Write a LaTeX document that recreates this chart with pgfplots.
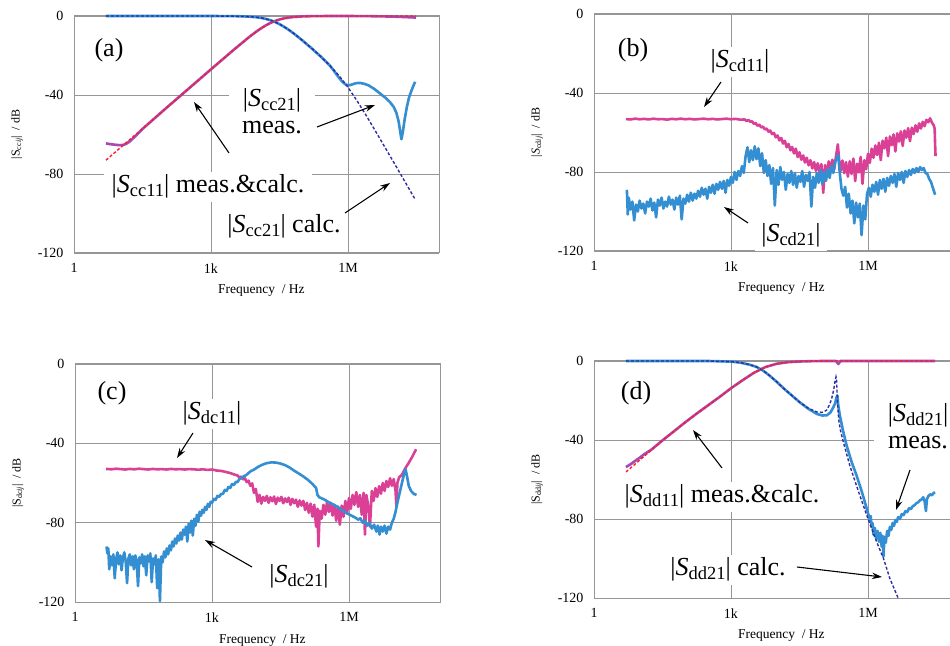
\documentclass[border=0pt]{standalone}
\usepackage{pgfplots}
\pgfplotsset{compat=1.18}
\usepackage{fontspec}
\setmainfont{Liberation Serif}
\usetikzlibrary{arrows.meta}
\definecolor{gridc}{RGB}{150,150,150}
\definecolor{pinkm}{RGB}{218,65,150}
\definecolor{purplem}{RGB}{168,72,178}
\definecolor{bluem}{RGB}{52,142,210}
\definecolor{navyc}{RGB}{45,45,165}
\definecolor{redc}{RGB}{250,30,40}
\newcommand{\A}{\fontsize{26}{27}\selectfont}
\newcommand{\Sb}[1]{\textit{S}\raisebox{-3.5pt}{\fontsize{18.5}{18.5}\selectfont #1}}
\newcommand{\Yl}[2]{|#1\raisebox{-1.5pt}{\fontsize{8}{8}\selectfont #2\textit{ij}}|\ \ / dB}
\tikzset{
meas/.style={line width=2.6pt, line join=round},
calc/.style={line width=1.4pt, dash pattern=on 3pt off 2pt},
lab/.style={font=\A, fill=white, inner ysep=3pt, inner xsep=6pt},
arr/.style={-{Stealth[length=10pt,width=6.5pt]}, line width=1.1pt}}
\pgfplotsset{panel/.style={
 scale only axis, width=365.3pt, height=237pt,
 xmin=0, xmax=8, ymin=-120, ymax=0,
 xtick={0,3,6}, xticklabels={1,1k,1M},
 ytick={-120,-80,-40,0}, yticklabels={-120,-80,-40,0},
 major tick length=0pt,
 grid=major, grid style={gridc, line width=0.9pt},
 axis line style={gridc, line width=1pt},
 tick label style={font=\fontsize{14}{14}\selectfont, text=black},
 xticklabel style={yshift=-7pt},
 yticklabel style={xshift=-7pt},
 clip=false,
 ylabel style={at={(axis description cs:-0.156,0.5)}, anchor=center, font=\fontsize{12}{12}\selectfont},
 xlabel style={at={(axis description cs:0.513,-0.16)}, anchor=center, font=\fontsize{13.5}{14}\selectfont},
 xlabel={Frequency\ \ / Hz},
}}
\begin{document}
\begin{tikzpicture}
\fill[white] (0pt,0pt) rectangle (950pt,645pt);
% ---------------- (a)
\begin{axis}[panel, at={(74pt,392pt)}, anchor=south west, ylabel={\Yl{S}{cc}}]
\addplot[meas, purplem] coordinates {(0.70,-64.5) (0.8,-64.9) (0.9,-65.2) (1.0,-65.4) (1.08,-65.3) (1.15,-64.6) (1.23,-63.4) (1.3,-61.8) (1.4,-59.6) (1.5,-57.2) (2.0,-47.0) (2.5,-37.0) (3.0,-27.0) (3.5,-17.08) (3.8,-11.33) (3.9,-9.51) (4.0,-7.79) (4.1,-6.19) (4.2,-4.76) (4.3,-3.54) (4.4,-2.54) (4.5,-1.76) (4.6,-1.19) (4.7,-0.79) (4.8,-0.51) (5.0,-0.21) (5.2,-0.09) (5.5,-0.02) (6.0,0) (6.5,-0.1) (7.0,-0.3) (7.3,-0.6) (7.49,-0.8)};
\addplot[meas, bluem] coordinates {(0.70,0) (3.0,-0.01) (3.5,-0.07) (3.8,-0.27) (4.0,-0.64) (4.1,-0.97) (4.2,-1.46) (4.3,-2.12) (4.4,-3.01) (4.5,-4.12) (4.6,-5.45) (4.7,-6.97) (4.8,-8.64) (4.9,-10.45) (5.0,-12.34) (5.2,-16.28) (5.4,-20.45) (5.6,-25.0) (5.7,-28.0) (5.8,-31.2) (5.88,-33.4) (5.95,-34.7) (6.02,-35.1) (6.1,-34.6) (6.18,-34.0) (6.26,-33.9) (6.35,-34.3) (6.45,-35.1) (6.58,-37.0) (6.70,-39.2) (6.82,-41.4) (6.92,-43.6) (7.0,-46.0) (7.06,-49.0) (7.11,-53.5) (7.14,-58.0) (7.17,-62.4) (7.20,-59.0) (7.24,-52.5) (7.29,-46.0) (7.34,-41.0) (7.40,-37.2) (7.47,-33.3)};
\addplot[calc, navyc] coordinates {(0.70,0) (2.0,0) (3.0,-0.01) (3.5,-0.07) (3.8,-0.27) (4.0,-0.64) (4.1,-0.97) (4.2,-1.46) (4.3,-2.12) (4.4,-3.01) (4.5,-4.12) (4.6,-5.45) (4.7,-6.97) (4.8,-8.64) (4.9,-10.45) (5.0,-12.34) (5.2,-16.28) (5.4,-20.45) (5.6,-24.99) (5.8,-30.12) (6.0,-36.1) (6.2,-43.0) (6.4,-50.4) (6.6,-58.2) (6.8,-66.1) (7.0,-74.0) (7.2,-82.0) (7.47,-92.8)};
\addplot[calc, redc] coordinates {(0.70,-73.0) (1.0,-67.0) (1.5,-57.0) (2.0,-47.0) (2.5,-37.0) (3.0,-27.0) (3.5,-17.08) (3.8,-11.33) (3.9,-9.51) (4.0,-7.79) (4.1,-6.19) (4.2,-4.76) (4.3,-3.54) (4.4,-2.54) (4.5,-1.76) (4.6,-1.19) (4.7,-0.79) (4.8,-0.51) (5.0,-0.21) (5.2,-0.09) (5.5,-0.02) (6.0,0) (7.49,0)};
\end{axis}
% ---------------- (b)
\begin{axis}[panel, at={(594pt,394pt)}, anchor=south west, ylabel={\Yl{\textit{S}}{cd}}]
\addplot[meas, pinkm] coordinates {(0.70,-53.2) (0.8,-53.4) (0.9,-53.0) (1.0,-53.3) (1.1,-53.1) (1.2,-53.4) (1.3,-53.0) (1.4,-53.3) (1.5,-53.2) (1.6,-53.5) (1.7,-53.1) (1.8,-53.3) (1.9,-53.0) (2.0,-53.3) (2.1,-53.1) (2.2,-53.4) (2.3,-53.2) (2.4,-53.0) (2.5,-53.3) (2.6,-53.1) (2.7,-53.4) (2.8,-53.2) (2.9,-53.0) (3.0,-53.3) (3.1,-53.1) (3.2,-53.5)
(3.30,-53.4) (3.34,-54.2) (3.38,-53.6) (3.42,-54.6) (3.46,-54.3) (3.50,-55.6) (3.54,-55.2) (3.58,-56.6) (3.62,-56.0) (3.66,-57.4) (3.70,-57.0) (3.74,-58.4) (3.78,-58.0) (3.82,-59.6) (3.86,-59.0) (3.90,-60.8) (3.94,-60.2) (3.98,-62.4) (4.02,-61.5) (4.06,-64.0) (4.10,-62.8) (4.14,-65.6) (4.18,-64.2) (4.22,-67.5) (4.26,-65.8) (4.30,-69.0) (4.34,-67.4) (4.38,-70.6) (4.42,-68.2) (4.46,-72.4) (4.50,-70.0) (4.54,-73.8) (4.58,-71.6) (4.62,-75.2) (4.66,-72.8) (4.70,-76.6) (4.74,-74.0) (4.78,-78.2) (4.82,-75.0) (4.86,-79.4) (4.90,-75.6) (4.94,-80.4) (4.98,-76.0) (5.02,-90.5) (5.06,-76.5) (5.10,-80.8) (5.14,-74.6) (5.18,-79.2) (5.22,-73.8) (5.26,-78.6) (5.30,-72.0) (5.34,-66.0) (5.37,-74.5) (5.40,-79.5) (5.44,-74.2) (5.48,-80.6) (5.52,-75.0) (5.56,-82.4) (5.60,-74.6) (5.64,-81.0) (5.68,-73.2) (5.72,-84.6) (5.76,-75.8) (5.80,-80.2) (5.84,-72.4) (5.88,-86.0) (5.92,-74.0) (5.96,-78.6) (6.00,-70.8) (6.04,-75.4) (6.08,-68.2) (6.12,-72.8) (6.16,-66.6) (6.20,-71.4) (6.24,-65.2) (6.28,-74.0) (6.32,-64.2) (6.36,-68.0) (6.40,-62.6) (6.44,-72.0) (6.48,-62.0) (6.52,-66.4) (6.56,-61.0) (6.60,-69.6) (6.64,-60.4) (6.68,-64.6) (6.72,-59.4) (6.76,-66.8) (6.80,-59.0) (6.84,-62.6) (6.88,-57.8) (6.92,-64.4) (6.96,-57.6) (7.00,-60.8) (7.04,-56.4) (7.08,-59.6) (7.12,-55.4) (7.16,-58.0) (7.20,-54.6) (7.24,-56.8) (7.28,-53.6) (7.32,-54.8) (7.36,-52.8) (7.40,-55.0) (7.44,-56.4) (7.46,-58.0) (7.47,-66.0) (7.48,-72.0)};
\addplot[meas, bluem] coordinates {(0.72,-89.0) (0.74,-101.5) (0.76,-93.0) (0.80,-99.0) (0.84,-95.0) (0.88,-104.5) (0.92,-96.5) (0.96,-100.0) (1.00,-94.5) (1.04,-98.5) (1.08,-96.0) (1.12,-101.0) (1.16,-95.0) (1.20,-97.5) (1.24,-93.5) (1.28,-99.5) (1.32,-95.5) (1.36,-103.0) (1.40,-94.0) (1.44,-97.0) (1.48,-93.0) (1.52,-98.5) (1.56,-95.0) (1.60,-97.5) (1.64,-92.5) (1.68,-96.5) (1.72,-94.0) (1.76,-99.0) (1.80,-93.0) (1.84,-96.5) (1.88,-92.0) (1.92,-104.0) (1.96,-93.5) (2.00,-96.0) (2.04,-91.5) (2.08,-95.0) (2.12,-90.5) (2.16,-94.5) (2.20,-91.0) (2.24,-93.5) (2.28,-89.5) (2.32,-92.5) (2.36,-88.0) (2.40,-91.5) (2.44,-88.5) (2.48,-93.5) (2.52,-87.5) (2.56,-90.5) (2.60,-86.5) (2.64,-91.0) (2.68,-86.0) (2.72,-89.0) (2.76,-85.0) (2.80,-88.5) (2.84,-84.5) (2.88,-90.5) (2.92,-84.0) (2.96,-87.0) (3.00,-82.5) (3.04,-85.5) (3.08,-80.0) (3.12,-84.0) (3.16,-79.5) (3.20,-82.0) (3.24,-77.0) (3.28,-80.5) (3.32,-72.0) (3.36,-67.5) (3.40,-75.0) (3.44,-69.0) (3.48,-74.0) (3.52,-67.0) (3.56,-73.5) (3.60,-68.0) (3.64,-77.0) (3.68,-70.5) (3.72,-80.5) (3.76,-74.0) (3.80,-82.0) (3.84,-76.5) (3.88,-86.0) (3.92,-78.0) (3.96,-97.0) (4.00,-79.0) (4.04,-86.5) (4.08,-77.5) (4.12,-84.0) (4.16,-80.0) (4.20,-89.0) (4.24,-81.0) (4.28,-85.5) (4.32,-79.5) (4.36,-86.5) (4.40,-80.5) (4.44,-88.0) (4.48,-82.0) (4.52,-85.0) (4.56,-79.5) (4.60,-87.5) (4.64,-81.5) (4.68,-84.5) (4.72,-80.0) (4.76,-97.5) (4.80,-82.5) (4.84,-88.0) (4.88,-80.5) (4.92,-85.5) (4.96,-79.0) (5.00,-86.0) (5.04,-80.0) (5.08,-84.5) (5.12,-78.5) (5.16,-83.0) (5.20,-77.0) (5.24,-80.5) (5.28,-75.0) (5.32,-72.5) (5.35,-71.5) (5.38,-80.0) (5.42,-88.5) (5.46,-92.0) (5.50,-87.5) (5.54,-98.0) (5.58,-91.0) (5.62,-101.0) (5.66,-94.5) (5.70,-106.0) (5.74,-95.5) (5.78,-103.0) (5.82,-96.0) (5.86,-112.0) (5.90,-97.0) (5.94,-104.0) (5.98,-91.0) (6.02,-88.0) (6.06,-92.5) (6.10,-86.5) (6.14,-90.0) (6.18,-85.0) (6.22,-91.5) (6.26,-84.0) (6.30,-88.5) (6.34,-83.5) (6.38,-90.0) (6.42,-83.0) (6.46,-87.0) (6.50,-82.0) (6.54,-85.5) (6.58,-81.0) (6.62,-87.5) (6.66,-80.5) (6.70,-84.0) (6.74,-80.0) (6.78,-85.5) (6.82,-79.5) (6.86,-82.5) (6.90,-79.0) (6.94,-81.5) (6.98,-78.5) (7.02,-80.5) (7.06,-78.0) (7.10,-80.0) (7.14,-77.5) (7.18,-79.0) (7.22,-78.0) (7.26,-80.5) (7.30,-81.0) (7.34,-83.5) (7.38,-85.0) (7.42,-88.0) (7.45,-90.0) (7.47,-91.5)};
\end{axis}
% ---------------- (c)
\begin{axis}[panel, at={(75pt,43pt)}, anchor=south west, height=238pt, ylabel={\Yl{S}{dc}}]
\addplot[meas, pinkm] coordinates {(0.68,-52.9) (0.8,-53.1) (0.9,-52.8) (1.0,-53.0) (1.1,-53.2) (1.2,-52.9) (1.3,-53.1) (1.4,-52.8) (1.5,-53.0) (1.6,-53.2) (1.7,-52.9) (1.8,-53.1) (1.9,-53.0) (2.0,-53.2) (2.1,-52.9) (2.2,-53.1) (2.3,-53.0) (2.4,-53.2) (2.5,-53.0) (2.6,-53.1) (2.7,-53.3) (2.8,-53.1) (2.9,-53.4) (3.0,-53.2) (3.1,-53.7) (3.2,-53.9) (3.3,-54.4) (3.4,-55.0) (3.5,-55.8)
(3.56,-56.2) (3.60,-57.2) (3.64,-56.8) (3.68,-58.2) (3.72,-57.6) (3.76,-59.6) (3.80,-58.8) (3.84,-61.4) (3.88,-60.2) (3.92,-65.0) (3.96,-63.0) (4.00,-69.5) (4.04,-66.0) (4.08,-70.4) (4.12,-67.0) (4.16,-69.0) (4.20,-66.5) (4.24,-70.0) (4.28,-67.2) (4.32,-69.2) (4.36,-66.8) (4.40,-70.6) (4.44,-67.4) (4.48,-69.0) (4.52,-67.0) (4.56,-70.2) (4.60,-67.8) (4.64,-69.6) (4.68,-67.4) (4.72,-71.0) (4.76,-68.0) (4.80,-70.2) (4.84,-68.4) (4.88,-72.0) (4.92,-68.8) (4.96,-71.4) (5.00,-69.0) (5.04,-73.6) (5.08,-70.0) (5.12,-75.0) (5.16,-70.4) (5.20,-77.0) (5.24,-71.0) (5.28,-82.0) (5.31,-73.0) (5.33,-92.0) (5.36,-74.0) (5.40,-78.0) (5.44,-71.0) (5.48,-76.0) (5.52,-69.6) (5.56,-74.6) (5.60,-70.0) (5.64,-76.4) (5.68,-71.0) (5.72,-79.0) (5.76,-72.0) (5.80,-81.0) (5.84,-71.4) (5.88,-77.0) (5.92,-69.0) (5.96,-75.0) (6.00,-67.6) (6.04,-73.0) (6.08,-66.0) (6.12,-71.0) (6.16,-64.6) (6.20,-72.0) (6.24,-66.0) (6.28,-76.0) (6.32,-65.0) (6.35,-86.0) (6.38,-66.0) (6.42,-71.0) (6.46,-82.0) (6.50,-64.0) (6.54,-69.0) (6.58,-62.6) (6.62,-67.0) (6.66,-61.6) (6.70,-65.4) (6.74,-60.0) (6.78,-64.0) (6.82,-59.0) (6.86,-62.0) (6.90,-57.6) (6.94,-61.4) (6.98,-58.0) (7.02,-64.0) (7.04,-72.0) (7.06,-60.0) (7.10,-57.0) (7.14,-56.4) (7.18,-55.0) (7.22,-53.2) (7.26,-51.6) (7.30,-50.2) (7.34,-48.6) (7.38,-47.0) (7.42,-45.2) (7.47,-43.0)};
\addplot[meas, bluem] coordinates {(0.69,-92.0) (0.71,-95.5) (0.73,-93.0) (0.75,-103.5) (0.78,-97.0) (0.81,-101.5) (0.84,-96.0) (0.87,-108.0) (0.90,-98.5) (0.93,-95.0) (0.96,-101.0) (0.99,-96.5) (1.02,-104.0) (1.05,-97.5) (1.08,-95.0) (1.11,-99.5) (1.14,-110.5) (1.17,-98.0) (1.20,-96.0) (1.23,-101.5) (1.26,-97.0) (1.29,-103.5) (1.32,-96.5) (1.35,-99.0) (1.38,-112.0) (1.41,-97.5) (1.44,-100.5) (1.47,-96.0) (1.50,-102.0) (1.53,-97.0) (1.56,-106.5) (1.59,-96.5) (1.62,-99.5) (1.65,-95.5) (1.68,-110.0) (1.71,-98.0) (1.74,-101.0) (1.77,-96.5) (1.80,-113.0) (1.83,-98.5) (1.86,-119.5) (1.89,-97.0) (1.92,-100.0) (1.95,-94.5) (1.98,-97.5) (2.01,-93.0) (2.04,-96.0) (2.07,-91.5) (2.10,-94.0) (2.13,-89.5) (2.16,-92.0) (2.19,-88.0) (2.22,-90.5) (2.25,-86.5) (2.28,-89.0) (2.31,-85.0) (2.34,-88.5) (2.37,-83.5) (2.40,-86.0) (2.43,-82.0) (2.46,-89.5) (2.49,-80.5) (2.52,-85.0) (2.55,-79.0) (2.58,-86.5) (2.61,-78.0) (2.64,-81.5) (2.67,-76.0) (2.70,-79.5) (2.73,-74.5) (2.76,-76.5) (2.79,-73.5) (2.82,-75.0) (2.85,-72.0) (2.88,-73.5) (2.91,-70.5) (2.94,-72.0) (2.97,-69.5) (3.00,-70.0) (3.04,-68.0) (3.08,-68.5) (3.12,-66.5) (3.16,-67.0) (3.20,-65.5) (3.24,-65.5) (3.28,-63.5) (3.32,-64.0) (3.36,-62.0) (3.40,-62.5) (3.44,-60.5) (3.48,-61.0) (3.52,-59.5) (3.56,-59.5) (3.60,-58.0) (3.65,-57.5) (3.70,-56.5) (3.75,-56.0) (3.80,-55.0) (3.85,-54.0) (3.90,-53.5) (3.95,-52.8) (4.00,-52.0) (4.10,-50.8) (4.20,-50.0) (4.30,-49.6) (4.40,-49.7) (4.50,-50.2) (4.60,-51.0) (4.70,-52.2) (4.80,-53.8) (4.90,-55.2) (5.00,-56.7) (5.10,-58.4) (5.20,-60.5) (5.28,-62.5) (5.31,-66.0) (5.35,-67.2) (5.45,-68.2) (5.55,-69.6) (5.65,-70.8) (5.75,-72.0) (5.85,-73.8) (5.95,-75.2) (6.05,-76.4) (6.15,-77.6) (6.20,-78.5) (6.25,-77.8) (6.30,-80.0) (6.35,-79.0) (6.40,-81.5) (6.45,-80.2) (6.50,-83.0) (6.55,-81.0) (6.60,-84.5) (6.63,-81.5) (6.67,-86.0) (6.70,-82.0) (6.74,-84.5) (6.78,-81.5) (6.82,-85.5) (6.86,-82.0) (6.90,-83.5) (6.94,-80.0) (6.98,-78.0) (7.02,-74.5) (7.06,-70.0) (7.10,-66.0) (7.14,-62.0) (7.18,-58.0) (7.22,-54.0) (7.24,-53.0) (7.27,-56.5) (7.31,-61.5) (7.36,-64.0) (7.42,-65.5) (7.48,-66.0)};
\end{axis}
% ---------------- (d)
\begin{axis}[panel, at={(594pt,47pt)}, anchor=south west, ylabel={\Yl{S}{dd}}]
\addplot[meas, purplem] coordinates {(0.70,-53.7) (0.8,-52.3) (0.9,-50.6) (1.0,-49.0) (1.1,-47.2) (1.25,-45.0) (1.5,-40.2) (1.75,-35.6) (2.0,-31.0) (2.25,-26.6) (2.5,-22.4) (2.75,-18.2) (3.0,-13.8) (3.25,-9.8) (3.5,-6.0) (3.75,-3.1) (4.0,-1.4) (4.25,-0.6) (4.5,-0.25) (4.75,-0.1) (5.0,0) (5.30,0) (5.35,-1.5) (5.40,0) (7.47,0)};
\addplot[meas, bluem] coordinates {(0.70,0) (2.5,0) (3.0,-0.3) (3.2,-0.8) (3.4,-1.8) (3.56,-3.0) (3.7,-4.8) (3.85,-7.5) (4.0,-10.5) (4.15,-13.8) (4.3,-16.8) (4.5,-20.8) (4.7,-24.3) (4.88,-26.8) (5.0,-27.6) (5.1,-27.5) (5.18,-26.0) (5.24,-23.5) (5.28,-21.5) (5.31,-18.5) (5.33,-17.5) (5.35,-22.5) (5.38,-27.0) (5.45,-35.0) (5.53,-42.6) (5.64,-51.0) (5.75,-58.0) (5.85,-65.0) (5.93,-71.3) (6.0,-77.0) (6.04,-80.5) (6.06,-78.5) (6.08,-84.0) (6.10,-82.0) (6.12,-88.0) (6.15,-84.5) (6.18,-90.0) (6.21,-86.0) (6.24,-91.5) (6.27,-87.0) (6.30,-94.0) (6.32,-88.5) (6.34,-99.0) (6.36,-89.0) (6.39,-92.0) (6.42,-86.0) (6.45,-88.5) (6.48,-84.0) (6.51,-85.5) (6.54,-82.0) (6.57,-83.5) (6.60,-80.5) (6.63,-81.5) (6.66,-79.0) (6.70,-80.0) (6.74,-77.5) (6.78,-78.0) (6.82,-76.0) (6.86,-76.5) (6.90,-74.5) (6.94,-75.0) (6.98,-73.5) (7.02,-73.0) (7.06,-72.0) (7.10,-71.5) (7.14,-70.5) (7.18,-70.0) (7.21,-69.0) (7.24,-71.0) (7.27,-76.0) (7.29,-70.0) (7.32,-68.5) (7.36,-67.5) (7.40,-68.0) (7.44,-66.8) (7.47,-66.5)};
\addplot[calc, navyc] coordinates {(0.70,0) (2.5,0) (3.0,-0.3) (3.2,-0.8) (3.4,-1.8) (3.56,-3.0) (3.7,-4.8) (3.85,-7.5) (4.0,-10.5) (4.15,-13.8) (4.3,-16.8) (4.5,-20.8) (4.7,-24.0) (4.88,-25.8) (5.0,-26.0) (5.09,-25.0) (5.15,-22.5) (5.2,-19.5) (5.25,-14.5) (5.28,-10.0) (5.30,-8.0) (5.31,-9.0) (5.33,-20.0) (5.36,-30.0) (5.40,-35.5) (5.46,-41.0) (5.6,-52.8) (5.82,-68.0) (6.0,-79.8) (6.19,-91.6) (6.34,-100.0) (6.48,-110.2) (6.66,-120.0)};
\addplot[calc, redc] coordinates {(0.70,-56.2) (1.0,-50.2) (1.25,-45.2) (1.5,-40.2) (1.75,-35.6) (2.0,-31.0) (2.25,-26.6) (2.5,-22.4) (2.75,-18.2) (3.0,-13.8) (3.25,-9.8) (3.5,-6.0) (3.75,-3.1) (4.0,-1.4) (4.25,-0.6) (4.5,-0.25) (4.75,-0.1) (5.0,0) (7.47,0)};
\end{axis}
% ---------------- annotations (a)
\node[font=\A] at (109pt,595pt) {(a)};
\node[lab, anchor=base, inner xsep=14pt] at (272pt,538pt) {|\Sb{cc21}|};
\node[lab, anchor=base, inner xsep=14pt] at (272pt,511pt) {meas.};
\node[lab, anchor=base, inner xsep=8pt] at (208pt,452pt) {|\Sb{cc11}| meas.\&calc.};
\node[lab, anchor=base] at (284pt,412pt) {|\Sb{cc21}| calc.};
\draw[arr] (229pt,492pt) -- (194pt,543pt);
\draw[arr] (317pt,518pt) -- (375pt,540pt);
\draw[arr] (345pt,432pt) -- (390pt,462pt);
% ---------------- annotations (b)
\node[font=\A] at (633pt,595pt) {(b)};
\node[lab, anchor=base] at (740pt,577pt) {|\Sb{cd11}|};
\draw[arr] (721pt,563pt) -- (704pt,538pt);
\node[lab, anchor=base] at (791pt,403pt) {|\Sb{cd21}|};
\draw[arr] (748pt,422pt) -- (724pt,438pt);
% ---------------- annotations (c)
\node[font=\A] at (112pt,252pt) {(c)};
\node[lab, anchor=base] at (212pt,225pt) {|\Sb{dc11}|};
\draw[arr] (193pt,212pt) -- (177pt,187pt);
\node[lab, anchor=base] at (299pt,62pt) {|\Sb{dc21}|};
\draw[arr] (252pt,78pt) -- (205pt,105pt);
% ---------------- annotations (d)
\node[font=\A] at (636pt,252pt) {(d)};
\node[lab, anchor=base] at (722pt,142pt) {|\Sb{dd11}| meas.\&calc.};
\draw[arr] (722pt,177pt) -- (693pt,215pt);
\node[lab, anchor=base] at (728pt,69pt) {|\Sb{dd21}| calc.};
\draw[arr] (797pt,78pt) -- (882pt,68pt);
\node[lab, anchor=base, inner xsep=14pt] at (918pt,223pt) {|\Sb{dd21}|};
\node[lab, anchor=base, inner xsep=14pt] at (918pt,196pt) {meas.};
\draw[arr] (910pt,175pt) -- (896pt,135pt);
\pgfresetboundingbox
\useasboundingbox (0pt,0pt) rectangle (950pt,645pt);
\end{tikzpicture}
\end{document}
